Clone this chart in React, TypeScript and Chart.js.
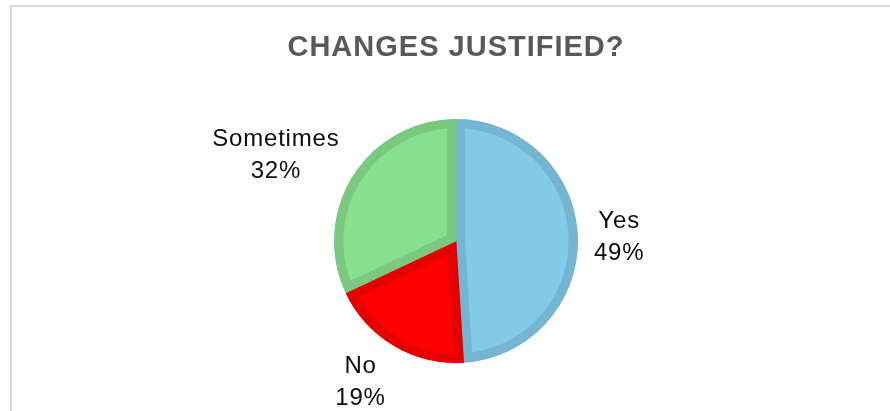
import React, { useEffect, useRef } from "react";
import { Chart, registerables } from "chart.js";

Chart.register(...registerables);

const chartTitle = "CHANGES JUSTIFIED?";
const categories = ["Yes", "No", "Sometimes"];
const percentages = [49, 19, 32];
const fillColors = ["#83C9E8", "#FF0000", "#86E08E"];
const edgeColors = ["#74B5D2", "#E50000", "#7BC880"];

const labelPlugin = {
  id: "outerLabels",
  afterDraw(chart: any) {
    const ctx = chart.ctx as CanvasRenderingContext2D;
    const meta = chart.getDatasetMeta(0);
    ctx.save();
    // title
    ctx.font = "bold 29px 'Liberation Sans', Arial, sans-serif";
    (ctx as any).letterSpacing = "1px";
    ctx.fillStyle = "#595959";
    ctx.textAlign = "center";
    ctx.textBaseline = "alphabetic";
    ctx.fillText(chartTitle, 456, 56);

    // data labels
    ctx.font = "24px 'Liberation Sans', Arial, sans-serif";
    (ctx as any).letterSpacing = "0.8px";
    ctx.fillStyle = "#0D0D0D";
    const lineGap = 32;
    const capH = 17;
    const gap = 16;
    meta.data.forEach((arc: any, i: number) => {
      const { x, y, startAngle, endAngle, outerRadius } = arc.getProps(
        ["x", "y", "startAngle", "endAngle", "outerRadius"],
        true
      );
      const mid = (startAngle + endAngle) / 2;
      const dx = Math.cos(mid);
      const dy = Math.sin(mid);
      const lines = [categories[i], percentages[i] + "%"];
      const w = Math.max(...lines.map((l) => ctx.measureText(l).width));
      const h = capH + lineGap;
      const cx = x + dx * (outerRadius + gap) + Math.sign(dx) * (w / 2);
      const cy = y + dy * (outerRadius + gap) + dy * (h / 2);
      const top = cy - h / 2;
      ctx.fillText(lines[0], cx, top + capH);
      ctx.fillText(lines[1], cx, top + capH + lineGap);
    });
    ctx.restore();
  },
};

export default function App() {
  const ref = useRef<HTMLCanvasElement | null>(null);
  useEffect(() => {
    if (!ref.current) return;
    const chart = new Chart(ref.current, {
      type: "pie",
      data: {
        labels: categories,
        datasets: [
          {
            data: percentages,
            backgroundColor: fillColors,
            borderColor: edgeColors,
            borderWidth: 9,
            borderAlign: "inner",
            borderJoinStyle: "miter",
          } as any,
        ],
      },
      options: {
        animation: false,
        responsive: false,
        maintainAspectRatio: false,
        layout: { padding: { left: 334, right: 312, top: 119, bottom: 48 } },
        plugins: {
          legend: { display: false },
          title: { display: false },
          tooltip: { enabled: false },
        },
        events: [],
      },
      plugins: [labelPlugin],
    });
    return () => chart.destroy();
  }, []);

  return (
    <div
      style={{
        position: "fixed",
        left: 0,
        top: 0,
        width: 890,
        height: 411,
        background: "#fff",
        overflow: "hidden",
      }}
    >
      <div
        style={{
          position: "absolute",
          left: 10,
          top: 5,
          width: 900,
          height: 420,
          border: "2px solid #DADADA",
          boxSizing: "border-box",
        }}
      />
      <canvas
        ref={ref}
        width={890}
        height={411}
        style={{ position: "absolute", left: 0, top: 0, width: 890, height: 411 }}
      />
    </div>
  );
}
